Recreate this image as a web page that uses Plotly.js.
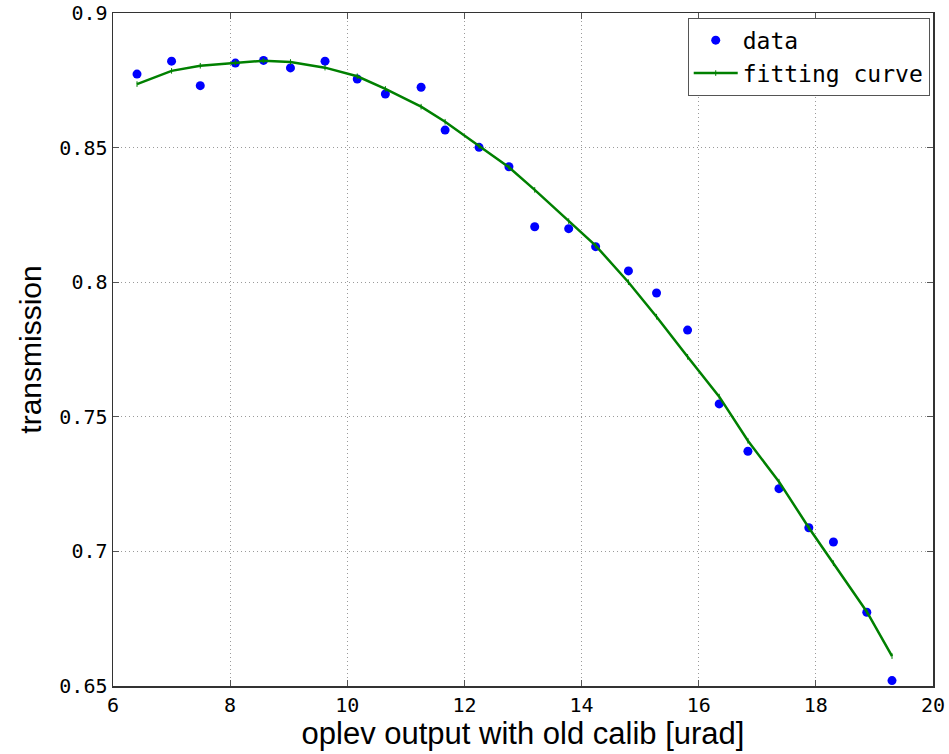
<!DOCTYPE html>
<html>
<head>
<meta charset="utf-8">
<script src="https://cdn.plot.ly/plotly-3.0.1.min.js"></script>
<style>html,body{margin:0;padding:0;background:#fff;}#chart{width:949px;height:754px;}</style>
</head>
<body>
<div id="chart"></div>
<script>
const dataX = [6.41, 7.00, 7.49, 8.09, 8.57, 9.03, 9.62, 10.17, 10.65, 11.26, 11.67, 12.25, 12.76, 13.20, 13.78, 14.24, 14.80, 15.28, 15.81, 16.35, 16.84, 17.37, 17.88, 18.30, 18.87, 19.30];
const dataY = [0.8773, 0.8821, 0.8730, 0.8814, 0.8824, 0.8796, 0.8821, 0.8755, 0.8699, 0.8724, 0.8565, 0.8501, 0.8429, 0.8206, 0.8199, 0.8132, 0.8042, 0.7960, 0.7822, 0.7548, 0.7372, 0.7233, 0.7088, 0.7035, 0.6774, 0.6520];
const fitY  = [0.8736, 0.8785, 0.8804, 0.8815, 0.8823, 0.8818, 0.8797, 0.8765, 0.8718, 0.8652, 0.8596, 0.8506, 0.8427, 0.8343, 0.8227, 0.8136, 0.8000, 0.7872, 0.7723, 0.7575, 0.7411, 0.7259, 0.7088, 0.6956, 0.6776, 0.6611];
const xTicks = [6, 8, 10, 12, 14, 16, 18, 20];
const yTicks = [0.65, 0.7, 0.75, 0.8, 0.85, 0.9];
const yTickText = ['0.65', '0.7', '0.75', '0.8', '0.85', '0.9'];

const mono = 'DejaVu Sans Mono, monospace';
const sans = 'Liberation Sans, Arial, sans-serif';
const traces = [
  {x: dataX, y: dataY, name: 'data', type: 'scatter', mode: 'markers',
   marker: {color: '#0000ff', size: 9, symbol: 'circle'}},
  {x: dataX, y: fitY, name: 'fitting curve', type: 'scatter', mode: 'lines+markers',
   line: {color: '#008000', width: 2.5},
   marker: {color: '#008000', size: 4, symbol: 'line-ns-open', line: {color: '#008000', width: 1}}}
];
const axisCommon = {
  showline: true, mirror: 'ticks', linecolor: '#333', linewidth: 1.5,
  ticks: 'inside', ticklen: 6, tickcolor: '#555',
  showgrid: true, gridcolor: '#9a9a9a', griddash: '1px,3px', gridwidth: 1,
  zeroline: false, tickfont: {family: mono, size: 20, color: '#000'}
};
const layout = {
  width: 949, height: 754,
  margin: {l: 113, r: 16, t: 13, b: 68},
  paper_bgcolor: '#fff', plot_bgcolor: '#fff',
  showlegend: true,
  legend: {x: 0.996, y: 0.993, xanchor: 'right', yanchor: 'top',
    bgcolor: '#fff', bordercolor: '#555', borderwidth: 1,
    font: {family: mono, size: 23, color: '#000'}, tracegroupgap: 0, itemwidth: 44},
  xaxis: Object.assign({}, axisCommon, {
    range: [6, 20], tickvals: xTicks, ticktext: xTicks.map(String),
    title: {text: 'oplev output with old calib [urad]', font: {family: sans, size: 31, color: '#000'}, standoff: 3}
  }),
  yaxis: Object.assign({}, axisCommon, {
    range: [0.65, 0.9], tickvals: yTicks, ticktext: yTickText,
    title: {text: 'transmission', font: {family: sans, size: 30, color: '#000'}, standoff: 9}
  })
};
Plotly.newPlot('chart', traces, layout, {displayModeBar: false, staticPlot: true});
</script>
</body>
</html>
